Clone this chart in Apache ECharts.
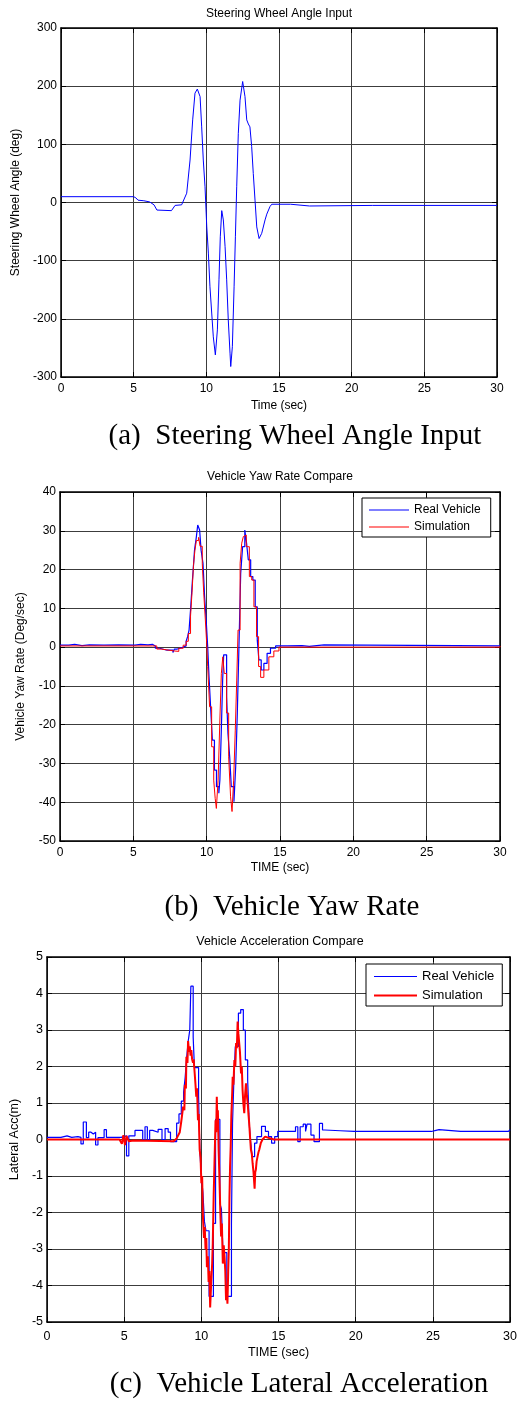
<!DOCTYPE html>
<html><head><meta charset="utf-8">
<script src="https://cdn.jsdelivr.net/npm/echarts@6/dist/echarts.min.js"></script>
<style>html,body{margin:0;padding:0;background:#fff}#c{width:520px;height:1408px}</style>
</head><body><div id="c"></div>
<script>
// ---------- DATA ----------
const xTicks = { min: 0, max: 30, interval: 5 };
const panelTitles = ['Steering Wheel Angle Input', 'Vehicle Yaw Rate Compare', 'Vehicle Acceleration Compare'];
const xNames = ['Time (sec)', 'TIME (sec)', 'TIME (sec)'];
const yNames = ['Steering Wheel Angle (deg)', 'Vehicle Yaw Rate (Deg/sec)', 'Lateral Acc(m)'];
const captions = ['(a)  Steering Wheel Angle Input', '(b)  Vehicle Yaw Rate', '(c)  Vehicle Lateral Acceleration'];
const legendNames = ['Real Vehicle', 'Simulation'];

// (a) steering wheel angle
const steerT = [0, 5.0, 5.15, 5.3, 5.7, 6.1, 6.4, 6.6, 7.6, 7.85, 8.3, 8.65, 8.88, 9.06, 9.22, 9.38, 9.57, 9.68, 9.79, 9.91, 10.03, 10.14, 10.25, 10.37, 10.48, 10.62, 10.76, 10.87, 10.96, 11.06, 11.17, 11.29, 11.4, 11.51, 11.63, 11.68, 11.79, 11.91, 12.0, 12.09, 12.2, 12.32, 12.5, 12.66, 12.78, 12.89, 13.0, 13.12, 13.23, 13.35, 13.47, 13.63, 13.81, 14.04, 14.16, 14.38, 14.5, 15.8, 15.85, 17.1, 17.15, 21.45, 21.5, 21.55, 30];
const steerV = [10, 10, 8, 4, 3, 1, -4, -13, -14, -5, -4, 16, 73, 142, 188, 195, 182, 130, 73, 27, -42, -87, -145, -190, -231, -262, -219, -133, -59, -14, -30, -76, -133, -202, -259, -282, -248, -145, -59, 27, 119, 176, 208, 182, 142, 135, 130, 96, 50, 4, -42, -62, -53, -30, -20, -7, -3, -3, -6, -6, -5, -5, -3, -5, -5];

// (b) yaw rate
const yawRealT = [0, 0.6, 1.0, 1.5, 2.0, 3.0, 4.0, 5.1, 5.5, 6.0, 6.3, 6.5, 6.8, 7.3, 7.7, 7.8, 8.0, 8.4, 8.6, 8.7, 8.8, 8.9, 9.03, 9.1, 9.17, 9.3, 9.39, 9.52, 9.62, 9.75, 9.86, 9.98, 10.07, 10.16, 10.28, 10.39, 10.53, 10.67, 10.83, 10.9, 11.0, 11.09, 11.16, 11.27, 11.36, 11.45, 11.57, 11.68, 11.86, 11.98, 12.09, 12.2, 12.32, 12.45, 12.6, 12.72, 12.84, 13.0, 13.15, 13.31, 13.45, 13.56, 13.72, 13.9, 14.12, 14.35, 14.7, 15.5, 16.5, 17.0, 17.5, 18.0, 30];
const yawRealV = [0.5, 0.7, 0.4, 0.6, 0.5, 0.6, 0.5, 0.7, 0.6, 0.7, 0.3, -0.3, -0.8, -0.8, -1.4, -0.5, 0, 0.3, 1.5, 2.7, 4.4, 9.6, 17.3, 21, 25, 28.5, 31.5, 30.2, 25, 21.6, 13, 6.1, 0.1, -7.6, -16.2, -24, -31.7, -36, -37.7, -34.3, -21.4, -8.5, -2, -2, -12.8, -22.2, -28.3, -36, -39.9, -30.8, -17, 0, 19, 25.9, 30.2, 26.8, 22.5, 18.2, 17.3, 10.4, 1.8, -3.3, -5.9, -4.2, -1.6, -0.3, 0.3, 0.4, 0.2, 0.4, 0.6, 0.3, 0.3];
const yawSimT = [0, 6.3, 6.6, 6.9, 7.8, 8.1, 8.4, 8.6, 8.75, 8.9, 9.0, 9.1, 9.2, 9.3, 9.45, 9.55, 9.7, 9.8, 9.91, 10.0, 10.07, 10.2, 10.34, 10.48, 10.58, 10.66, 10.78, 10.9, 11.0, 11.1, 11.2, 11.36, 11.5, 11.63, 11.73, 11.84, 11.95, 12.05, 12.14, 12.28, 12.39, 12.5, 12.58, 12.7, 12.91, 13.07, 13.22, 13.4, 13.54, 13.68, 13.9, 14.24, 14.58, 14.93, 30];
const yawSimV = [0.3, 0.3, -0.5, -1.0, -1.1, -0.3, 0.5, 1.5, 3.5, 8, 14, 21, 25, 27.5, 28.3, 26, 21.6, 14, 7, 1, -5, -15.4, -25.7, -34.3, -39, -41.6, -34.3, -18.8, -6.8, -2.5, -6.8, -17, -28.3, -38.6, -42.4, -34.3, -21.4, -8.5, 4.4, 21.6, 26.8, 28.5, 28.9, 25.9, 18.2, 17.3, 10.4, 2.7, -5, -7.8, -5.9, -2.5, -1, 0, 0.3];

// (c) lateral acceleration
const accRealT = [0, 0.5, 0.9, 1.3, 1.6, 2.0, 2.2, 2.35, 2.55, 2.7, 2.85, 3.0, 3.15, 3.3, 3.7, 3.85, 4.8, 5.15, 5.3, 5.7, 6.2, 6.35, 6.5, 6.65, 6.85, 7.2, 7.45, 7.65, 7.85, 8.0, 8.4, 8.55, 8.7, 8.85, 8.95, 9.05, 9.15, 9.25, 9.32, 9.47, 9.55, 9.82, 9.9, 10.0, 10.1, 10.2, 10.3, 10.5, 10.78, 10.92, 11.2, 11.3, 11.4, 11.65, 11.95, 12.02, 12.1, 12.2, 12.4, 12.55, 12.72, 12.85, 13.0, 13.1, 13.2, 13.3, 13.45, 13.6, 13.9, 14.15, 14.35, 14.55, 14.75, 14.95, 15.1, 16.1, 16.25, 16.4, 16.6, 16.75, 16.85, 17.1, 17.3, 17.65, 17.85, 18.0, 19.0, 19.9, 20.0, 22.0, 22.1, 22.4, 22.5, 24.9, 25.2, 25.4, 26.8, 26.9, 28.0, 28.1, 29.9, 30];
const accRealV = [0.06, 0.06, 0.1, 0.06, 0.08, 0.06, -0.12, 0.48, 0.05, 0.2, 0.15, 0.2, -0.15, 0.05, 0.27, 0.06, 0.1, -0.45, 0.1, 0.25, 0, 0.35, 0, 0.25, 0.2, 0.28, 0, 0.3, 0.2, -0.06, 0.45, 0.7, 1.05, 1.3, 1.7, 2.25, 2.7, 3.0, 4.2, 2.8, 1.97, 1.2, -0.3, -1.0, -1.45, -2.25, -2.5, -4.3, -2.3, 0.55, -1.75, -1.9, -3.1, -4.3, -2.3, 0.44, 1.54, 2.55, 3.46, 3.56, 3.0, 2.18, 1.63, 0.44, -0.1, -0.47, -0.1, 0.08, 0.36, 0.22, 0.08, -0.1, 0.08, 0.22, 0.22, 0.35, -0.06, 0.35, 0.42, 0.22, 0.42, 0.12, -0.06, 0.44, 0.26, 0.24, 0.22, 0.25, 0.22, 0.26, 0.22, 0.26, 0.22, 0.25, 0.27, 0.22, 0.27, 0.22, 0.25, 0.22, 0.27, 0.27];
const accSimT = [0, 4.7, 4.85, 4.95, 5.05, 5.15, 5.3, 5.6, 8.2, 8.4, 8.6, 8.7, 8.82, 8.9, 8.93, 9.0, 9.03, 9.1, 9.14, 9.2, 9.25, 9.3, 9.35, 9.4, 9.46, 9.5, 9.57, 9.62, 9.67, 9.72, 9.78, 9.83, 9.89, 9.95, 10.0, 10.05, 10.1, 10.17, 10.22, 10.27, 10.32, 10.36, 10.42, 10.47, 10.52, 10.57, 10.64, 10.7, 10.74, 10.8, 10.85, 10.92, 10.96, 11.0, 11.03, 11.07, 11.12, 11.18, 11.23, 11.28, 11.33, 11.39, 11.45, 11.5, 11.55, 11.6, 11.65, 11.69, 11.74, 11.78, 11.82, 11.86, 11.9, 11.94, 12.0, 12.03, 12.08, 12.14, 12.2, 12.25, 12.3, 12.35, 12.4, 12.46, 12.5, 12.57, 12.62, 12.67, 12.72, 12.78, 12.83, 12.89, 12.95, 13.0, 13.05, 13.1, 13.15, 13.21, 13.27, 13.32, 13.38, 13.45, 13.49, 13.53, 13.58, 13.64, 13.7, 13.75, 13.85, 13.96, 14.05, 14.13, 14.25, 14.39, 14.7, 30];
const accSimV = [0, 0, -0.12, 0.12, -0.15, 0.1, -0.05, -0.03, -0.05, 0.03, 0.2, 0.5, 0.9, 0.8, 1.5, 1.4, 2.27, 2.1, 2.7, 2.4, 2.55, 2.3, 2.45, 2.2, 2.1, 2.2, 1.8, 1.5, 1.17, 1.4, 0.53, 0.7, -0.28, -0.5, -1.2, -1.0, -2.1, -2.7, -2.4, -3.0, -2.7, -3.5, -3.2, -3.9, -3.6, -4.6, -3.9, -3.4, -2.84, -1.5, -0.65, 0.53, 0.2, 1.17, 0.6, 0.8, -0.3, -1.2, -2.0, -2.66, -2.3, -3.4, -2.9, -3.2, -3.6, -4.4, -4.1, -4.5, -3.6, -3.0, -1.6, -0.74, -0.2, 0.62, 1.3, 1.72, 1.5, 2.18, 2.0, 2.64, 2.5, 3.23, 2.9, 2.9, 2.4, 1.81, 2.0, 1.36, 1.0, 0.72, 1.2, 1.54, 1.2, 1.0, 0.7, 0.44, 0.1, -0.28, -0.4, -0.65, -0.9, -1.35, -0.9, -0.83, -0.6, -0.47, -0.35, -0.28, -0.1, 0, 0.05, 0.08, 0.05, 0.04, 0, 0];

const yScales = [
  { min: -300, max: 300, interval: 100 },
  { min: -50, max: 40, interval: 10 },
  { min: -5, max: 5, interval: 1 }
];

// ---------- LAYOUT ----------
const FONT = 'Liberation Sans, Arial, sans-serif';
const SERIF = 'Liberation Serif, Times New Roman, serif';
const grids = [
  { left: 61, top: 28, width: 436, height: 349 },
  { left: 60, top: 492, width: 440, height: 349 },
  { left: 46, top: 957, width: 468, height: 365 }
];
const cfg = [
  { fs: 12, xMargin: 6, xNameGap: 23, yNameGap: 38, titleY: 14, capX: 295, capY: 436 },
  { fs: 12, xMargin: 6, xNameGap: 21, yNameGap: 33, titleY: 477, capX: 292, capY: 907 },
  { fs: 12.5, xMargin: 8, xNameGap: 24, yNameGap: 25, titleY: 942, capX: 299, capY: 1384 }
];
const zip = (t, v) => t.map((x, i) => [x, v[i]]);

const xAxis = [], yAxis = [];
grids.forEach((g, i) => {
  const c = cfg[i];
  const lineStyle = { color: '#000', width: 1.5 };
  const tick = { inside: true, length: 5, lineStyle: { color: '#000', width: 1 } };
  xAxis.push({
    type: 'value', gridIndex: i, ...xTicks, name: xNames[i], nameLocation: 'middle', nameGap: c.xNameGap,
    nameTextStyle: { color: '#000', fontSize: c.fs, fontFamily: FONT },
    axisLine: { onZero: false, lineStyle }, axisTick: tick,
    axisLabel: { margin: c.xMargin, color: '#000', fontSize: c.fs, fontFamily: FONT },
    splitLine: { show: true, lineStyle: { color: '#3c3c3c', width: 1 } }
  });
  xAxis.push({
    type: 'value', gridIndex: i, position: 'top', ...xTicks,
    axisLine: { onZero: false, lineStyle }, axisTick: tick, axisLabel: { show: false }, splitLine: { show: false }
  });
  yAxis.push({
    type: 'value', gridIndex: i, ...yScales[i], name: yNames[i], nameLocation: 'middle', nameGap: c.yNameGap,
    nameTextStyle: { color: '#000', fontSize: c.fs, fontFamily: FONT },
    axisLine: { onZero: false, lineStyle }, axisTick: tick,
    axisLabel: { margin: 4, color: '#000', fontSize: c.fs, fontFamily: FONT },
    splitLine: { show: true, lineStyle: { color: '#3c3c3c', width: 1 } }
  });
  yAxis.push({
    type: 'value', gridIndex: i, position: 'right', ...yScales[i],
    axisLine: { onZero: false, lineStyle }, axisTick: tick, axisLabel: { show: false }, splitLine: { show: false }
  });
});

const mk = (name, gi, data, color, width, step) => ({
  type: 'line', name, xAxisIndex: gi * 2, yAxisIndex: gi * 2, data, symbol: 'none', showSymbol: false,
  step: step || false, lineStyle: { color, width }, itemStyle: { color }, animation: false, z: name === 'Simulation' ? 3 : 2
});

const series = [
  mk('Steering', 0, zip(steerT, steerV), '#0000ff', 1),
  mk(legendNames[0], 1, zip(yawRealT, yawRealV), '#0000ff', 1.2, 'end'),
  mk(legendNames[1], 1, zip(yawSimT, yawSimV), '#ff0000', 1, 'end'),
  mk(legendNames[0], 2, zip(accRealT, accRealV), '#0000ff', 1.2, 'end'),
  mk(legendNames[1], 2, zip(accSimT, accSimV), '#ff0000', 2)
];

const graphic = [];
grids.forEach((g, i) => {
  graphic.push({ type: 'text', x: g.left + g.width / 2, y: cfg[i].titleY,
    style: { text: panelTitles[i], fill: '#000', font: `${cfg[i].fs}px ${FONT}`, align: 'center', verticalAlign: 'middle' } });
  graphic.push({ type: 'text', x: cfg[i].capX, y: cfg[i].capY,
    style: { text: captions[i], fill: '#000', font: `29px ${SERIF}`, align: 'center', verticalAlign: 'middle' } });
});

const legendBase = {
  orient: 'vertical', backgroundColor: '#fff', borderColor: '#000', borderWidth: 1, borderRadius: 0,
  selectedMode: false
};
const legend = [
  { ...legendBase, left: 362, top: 498, padding: [6, 10, 4, 7], itemGap: 5, itemWidth: 40, itemHeight: 14,
    data: [{ name: legendNames[0], icon: 'path://M0 0H40V1.2H0Z' }, { name: legendNames[1], icon: 'path://M0 0H40V1.1H0Z' }],
    textStyle: { color: '#000', fontSize: 12, fontFamily: FONT } },
  { ...legendBase, left: 366, top: 964, padding: [6, 8, 4, 8], itemGap: 6, itemWidth: 43, itemHeight: 15,
    data: [{ name: legendNames[0], icon: 'path://M0 0H43V1.2H0Z' }, { name: legendNames[1], icon: 'path://M0 0H43V1.8H0Z' }],
    textStyle: { color: '#000', fontSize: 13, fontFamily: FONT } }
];

const chart = echarts.init(document.getElementById('c'), null, { renderer: 'canvas' });
chart.setOption({ backgroundColor: '#fff', animation: false, grid: grids, xAxis, yAxis, series, legend, graphic });
</script></body></html>
